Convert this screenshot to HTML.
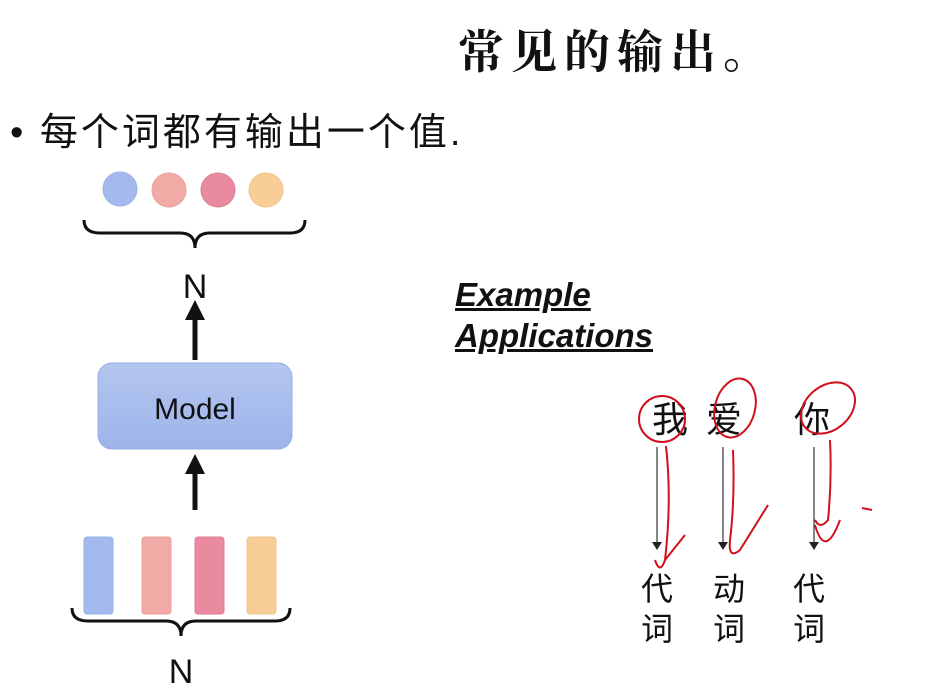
<!DOCTYPE html>
<html><head><meta charset="utf-8"><style>
body{margin:0;width:943px;height:690px;background:#fff;overflow:hidden;position:relative;font-family:"Liberation Sans","Noto Sans CJK SC",sans-serif}
.t{position:absolute;white-space:nowrap;color:#111}
</style></head><body>
<div class="t" style="left:458px;top:16px;font-size:46px;font-weight:bold;font-family:'Noto Serif CJK SC','Noto Sans CJK SC',serif;letter-spacing:7px">常见的输出。</div>
<div class="t" style="left:10px;top:101px;font-size:38px;letter-spacing:3px">• 每个词都有输出一个值.</div>
<div class="t" style="left:455px;top:274px;font-size:33px;font-weight:bold;font-style:italic;text-decoration:underline;line-height:41px">Example<br>Applications</div>
<svg width="943" height="690" style="position:absolute;left:0;top:0">
<defs><linearGradient id="g" x1="0" y1="0" x2="0" y2="1"><stop offset="0" stop-color="#b4c6f0"/><stop offset="1" stop-color="#9db4ea"/></linearGradient></defs>
<circle cx="120" cy="189" r="17" fill="#a4b9ee" stroke="#9ab0e4"/>
<circle cx="169" cy="190" r="17" fill="#f2aaa6" stroke="#e8a09c"/>
<circle cx="218" cy="190" r="17" fill="#ea8aa0" stroke="#dc7e94"/>
<circle cx="266" cy="190" r="17" fill="#f8cd96" stroke="#eec48e"/>
<path d="M84 220 Q84 233 100 233 L180 233 Q195 233 195 248 Q195 233 210 233 L290 233 Q305 233 305 220" fill="none" stroke="#111" stroke-width="3"/>
<text x="195" y="298" font-size="34" text-anchor="middle" fill="#111">N</text>
<line x1="195" y1="360" x2="195" y2="318" stroke="#111" stroke-width="5"/>
<polygon points="185,320 205,320 195,300" fill="#111"/>
<rect x="98" y="363" width="194" height="86" rx="14" fill="url(#g)" stroke="#95aee6"/>
<text x="195" y="419" font-size="30" text-anchor="middle" fill="#111">Model</text>
<line x1="195" y1="510" x2="195" y2="472" stroke="#111" stroke-width="5"/>
<polygon points="185,474 205,474 195,454" fill="#111"/>
<rect x="84" y="537" width="29" height="77" rx="3" fill="#a4b9ee" stroke="#9ab0e4"/>
<rect x="142" y="537" width="29" height="77" rx="3" fill="#f2aaa6" stroke="#e8a09c"/>
<rect x="195" y="537" width="29" height="77" rx="3" fill="#ea8aa0" stroke="#dc7e94"/>
<rect x="247" y="537" width="29" height="77" rx="3" fill="#f8cd96" stroke="#eec48e"/>
<path d="M72 608 Q72 621 88 621 L166 621 Q181 621 181 636 Q181 621 196 621 L275 621 Q290 621 290 608" fill="none" stroke="#111" stroke-width="3"/>
<text x="181" y="683" font-size="34" text-anchor="middle" fill="#111">N</text>
<g font-size="36" fill="#111" font-family="Noto Sans CJK SC,sans-serif">
<text x="652" y="432">我</text><text x="706" y="432">爱</text><text x="794" y="432">你</text>
<text x="641" y="600" font-size="32">代</text><text x="641" y="640" font-size="32">词</text>
<text x="713" y="600" font-size="32">动</text><text x="713" y="640" font-size="32">词</text>
<text x="793" y="600" font-size="32">代</text><text x="793" y="640" font-size="32">词</text>
</g>
<g stroke="#333" stroke-width="1.2">
<line x1="657" y1="447" x2="657" y2="543"/><line x1="723" y1="447" x2="723" y2="543"/><line x1="814" y1="447" x2="814" y2="543"/>
</g>
<g fill="#222"><polygon points="652,542 662,542 657,550"/><polygon points="718,542 728,542 723,550"/><polygon points="809,542 819,542 814,550"/></g>
<g fill="none" stroke="#d0101c" stroke-width="2">
<ellipse cx="662" cy="419" rx="23" ry="23"/>
<ellipse cx="735" cy="408" rx="20" ry="30" transform="rotate(15 735 408)"/>
<ellipse cx="828" cy="408" rx="30" ry="22" transform="rotate(-40 828 408)"/>
<path d="M666 446 Q672 500 665 560 Q660 575 655 560 M665 560 L685 535"/>
<path d="M733 450 Q735 500 730 540 Q728 560 740 550 L768 505"/>
<path d="M830 440 Q832 480 828 520 Q820 530 815 520 M815 525 Q825 560 840 520"/>
<path d="M862 508 L872 510"/>
</g>
</svg>
</body></html>
